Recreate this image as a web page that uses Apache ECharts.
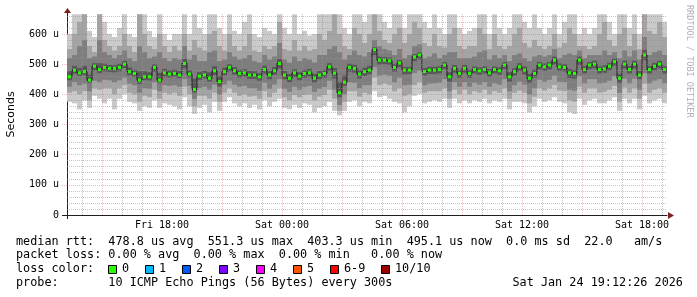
<!DOCTYPE html>
<html><head><meta charset="utf-8">
<script src="https://cdn.jsdelivr.net/npm/echarts@6/dist/echarts.min.js"></script>
<style>html,body{margin:0;padding:0;background:#fff}#c{width:697px;height:297px}</style>
</head><body><div id="c"></div>
<script>
// time axis: hours since Fri 00:00
const startHour = 13.25, endHour = 43.25, stepHours = 0.25;

const med = [458,480,471,475,447,493,482,489,486,486, 489,500,475,469,447,458,458,489,447,471,
 467,469,464,502,467,416,460,464,453,478, 442,475,489,478,469,471,464,464,458,482,
 464,478,502,464,453,471,460,469,471,453, 464,469,491,470,405,440,489,486,467,475,
 480,548,513,513,511,489,504,480,480,524, 530,475,480,480,482,497,458,486,469,486,
 469,482,478,482,471,482,478,497,458,475, 491,480,453,469,497,491,497,513,491,489,
 471,469,513,482,497,500,482,484,493,508, 453,500,482,500,464,530,482,493,500,482];

const hi1 = [600,665,665,665,610,590,665,640,600,590, 620,665,600,590,665,665,610,590,665,600, 580,600,600,665,600,665,620,600,665,665,
 620,600,665,610,600,640,665,600,590,620, 610,600,665,620,600,665,600,610,595,600, 665,665,665,665,665,620,600,665,665,640,
 665,665,665,640,620,665,665,620,665,665, 665,640,620,665,620,600,665,665,620,600, 610,620,665,665,600,665,620,600,620,665,
 665,640,620,665,620,600,620,665,600,640, 665,665,600,620,600,620,665,665,640,600, 665,665,620,665,600,665,665,665,665,640];
const hi2 = [550,600,640,665,560,540,665,580,560,545, 560,600,560,540,665,600,560,550,600,560, 540,560,545,600,545,580,555,545,600,610,
 560,545,600,560,545,560,600,545,540,560, 550,560,640,550,545,580,545,560,545,550, 600,580,610,665,600,560,550,620,600,570,
 600,665,610,580,570,600,620,570,600,640, 620,570,560,600,560,555,600,620,560,550, 560,560,620,600,550,600,560,550,560,600,
 620,570,555,580,560,550,560,600,555,570, 620,600,560,560,550,560,600,640,580,560, 600,620,560,600,550,665,610,600,640,590];
const hi3 = [520,530,560,580,520,525,580,540,530,520, 530,545,520,510,560,540,520,525,540,520, 510,520,515,560,515,530,510,510,540,545,
 510,515,540,525,515,520,530,510,505,530, 515,525,570,515,505,525,510,520,515,505, 530,530,550,560,540,515,530,545,530,525,
 540,580,560,550,545,530,550,520,530,560, 565,520,525,535,520,530,540,540,520,520, 520,525,540,545,515,530,520,530,510,530,
 535,520,510,525,530,525,530,550,520,530, 535,530,545,520,530,530,530,545,530,540, 520,545,525,545,515,590,530,540,545,530];
const hi4 = [476,494,487,494,465,503,503,501,497,496, 501,511,489,481,476,476,473,499,471,484, 480,482,477,517,480,451,474,478,473,493,
 460,488,500,490,481,483,477,476,470,495, 476,490,517,477,467,483,473,481,484,467, 477,481,503,487,441,462,501,498,481,488,
 494,556,525,524,522,500,514,491,491,533, 540,487,491,491,492,507,473,497,481,497, 481,492,489,492,483,492,489,507,473,486,
 503,492,467,482,507,502,507,525,502,500, 484,481,525,493,507,511,492,496,504,519, 467,512,493,511,477,547,493,504,511,493];
const lo4 = [447,468,461,463,437,479,470,476,474,473, 476,487,463,458,434,447,446,475,437,458, 456,458,453,486,456,406,448,453,442,464,
 426,463,476,465,456,458,451,451,445,469, 450,465,486,450,439,457,447,455,458,439, 450,455,477,452,390,428,475,472,452,461,
 466,530,499,500,498,475,490,466,467,510, 516,462,467,467,469,484,442,472,455,472, 455,469,465,469,458,469,465,484,442,462,
 477,466,437,456,482,477,482,499,477,476, 454,452,497,469,483,486,469,471,479,495, 437,486,469,486,450,513,469,479,486,469];
const lo3 = [425,440,430,435,410,445,440,448,446,440, 446,455,435,430,405,420,418,440,410,430, 428,430,425,450,428,385,420,425,415,432,
 400,432,445,432,425,428,420,420,412,438, 418,432,450,418,408,425,415,424,428,408, 418,424,445,415,365,400,440,438,420,430,
 430,490,462,465,462,440,455,430,432,470, 478,430,435,436,438,450,410,440,425,440, 425,438,432,440,425,436,432,450,410,430,
 442,432,400,420,448,442,448,462,442,440, 415,412,460,436,450,450,436,438,445,460, 405,452,436,452,415,470,436,445,450,436];
const lo2 = [405,410,400,410,380,420,415,420,420,400, 420,430,405,400,375,395,390,415,385,405, 400,405,395,425,400,360,395,395,385,405,
 375,405,420,405,395,400,392,395,385,410, 390,405,420,390,380,398,390,398,400,380, 392,398,415,385,345,375,410,410,392,405,
 400,455,430,435,430,410,420,395,400,430, 440,405,410,410,410,420,385,415,400,415, 400,410,405,415,400,410,405,420,385,405,
 412,405,370,392,420,412,420,430,412,410, 380,375,425,405,420,420,405,408,415,428, 375,422,405,420,385,435,405,415,420,405];
const lo1 = [375,370,350,380,355,395,385,370,385,350, 385,400,375,370,345,360,355,380,355,370, 365,360,350,390,360,335,355,365,340,375,
 345,375,390,370,360,370,355,365,350,380, 360,375,385,355,350,365,355,370,365,340, 355,360,375,345,330,345,375,380,360,375,
 370,410,390,395,385,375,370,340,360,395, 400,370,375,380,375,385,355,385,370,380, 370,380,375,385,370,380,375,385,350,375,
 375,370,340,360,385,375,380,390,375,370, 340,335,385,365,380,385,370,370,380,390, 345,385,370,385,350,395,370,380,385,370];

const smokeColors = ['#cacaca', '#a4a4a4', '#7e7e7e', '#585858'];
const xLabelHours = [18, 24, 30, 36, 42];
const xLabels = ['Fri 18:00', 'Sat 00:00', 'Sat 06:00', 'Sat 12:00', 'Sat 18:00'];
const majorHours = [15, 18, 21, 24, 27, 30, 33, 36, 39, 42];
const yTicks = [0, 100, 200, 300, 400, 500, 600];
const yMinorStep = 20, yMax = 666;
const lossLabels = ['0', '1', '2', '3', '4', '5', '6-9', '10/10'];
const lossColors = ['#26ff00', '#00b8ff', '#0059ff', '#7e00ff', '#ff00ff', '#ff5500', '#ff0000', '#a10000'];
const statLines = [
  'median rtt:  478.8 us avg  551.3 us max  403.3 us min  495.1 us now  0.0 ms sd  22.0   am/s',
  'packet loss: 0.00 % avg  0.00 % max  0.00 % min   0.00 % now',
  'loss color:',
  'probe:       10 ICMP Echo Pings (56 Bytes) every 300s'
];
const stampText = 'Sat Jan 24 19:12:26 2026';

// build data tables
const times = med.map((_, i) => startHour + i * stepHours);
const smokeData = times.map((t, i) => [t, lo1[i], lo2[i], lo3[i], lo4[i], hi4[i], hi3[i], hi2[i], hi1[i]]);
const medData = times.map((t, i) => [t, med[i]]);
const medLine = times.map((t, i) => [t + stepHours / 2, med[i]]);

const minorC = 'rgba(150,150,150,0.55)', majorC = 'rgba(222,79,79,0.38)';
const gridMarks = [];
for (let h = Math.ceil(startHour); h < endHour; h++) {
  gridMarks.push({xAxis: h, lineStyle: {color: majorHours.includes(h) ? majorC : minorC, type: [1, 1], width: 1}});
}
for (let v = yMinorStep; v < yMax; v += yMinorStep) {
  gridMarks.push({yAxis: v, lineStyle: {color: yTicks.includes(v) ? majorC : minorC, type: [1, 1], width: 1}});
}

const mono = 'DejaVu Sans Mono';
const chart = echarts.init(document.getElementById('c'), null, {renderer: 'canvas'});

const graphics = [];
const lineYs = [241.5, 255.2, 269, 282.8];
statLines.forEach((s, k) => graphics.push({type: 'text', x: 16, y: lineYs[k],
  style: {text: s, font: '11.8px "' + mono + '"', fill: '#000', textVerticalAlign: 'middle'}}));
graphics.push({type: 'text', x: 512.5, y: lineYs[3], style: {text: stampText, font: '11.8px "' + mono + '"', fill: '#000', textVerticalAlign: 'middle'}});
const boxX = [108, 145, 182, 219, 256, 293, 330, 381];
lossLabels.forEach((l, k) => {
  graphics.push({type: 'rect', shape: {x: boxX[k] + 0.5, y: 265.5, width: 8, height: 8},
    style: {fill: lossColors[k], stroke: '#000', lineWidth: 1}});
  graphics.push({type: 'text', x: boxX[k] + 14, y: lineYs[2], style: {text: l, font: '11.8px "' + mono + '"', fill: '#000', textVerticalAlign: 'middle'}});
});
graphics.push({type: 'text', x: 689, y: 5, rotation: -Math.PI / 2,
  style: {text: 'RRDTOOL / TOBI OETIKER', font: '8.5px "' + mono + '"', fill: '#b0b0b0', textVerticalAlign: 'middle'}});
// axis arrows and axis extensions
graphics.push({type: 'line', shape: {x1: 62, y1: 215.5, x2: 67, y2: 215.5}, style: {stroke: '#1f1f1f', lineWidth: 1}});
graphics.push({type: 'line', shape: {x1: 67.5, y1: 215, x2: 67.5, y2: 219}, style: {stroke: '#1f1f1f', lineWidth: 1}});
graphics.push({type: 'line', shape: {x1: 67.5, y1: 14, x2: 67.5, y2: 11}, style: {stroke: '#1f1f1f', lineWidth: 1}});
graphics.push({type: 'polygon', shape: {points: [[64, 13], [71, 13], [67.5, 8]]}, style: {fill: '#801f1f'}});
graphics.push({type: 'polygon', shape: {points: [[668, 212], [668, 219], [674, 215.5]]}, style: {fill: '#801f1f'}});

chart.setOption({
  animation: false,
  backgroundColor: '#ffffff',
  grid: {left: 67, right: 30, top: 14, bottom: 82, containLabel: false, outerBoundsMode: 'none'},
  xAxis: {
    type: 'value', min: startHour, max: endHour,
    axisLine: {show: true, lineStyle: {color: '#1f1f1f', width: 1}},
    axisTick: {show: false},
    splitLine: {show: false},
    axisLabel: {customValues: xLabelHours, formatter: v => xLabels[xLabelHours.indexOf(v)] || '',
      fontFamily: mono, fontSize: 10, color: '#000', margin: 5}
  },
  yAxis: {
    type: 'value', min: 0, max: yMax,
    name: 'Seconds', nameLocation: 'middle', nameRotate: 90, nameGap: 50,
    nameTextStyle: {fontFamily: 'DejaVu Sans', fontSize: 11, color: '#000'},
    axisLine: {show: true, lineStyle: {color: '#1f1f1f', width: 1}},
    axisTick: {show: true, customValues: yTicks.slice(1), length: 5, lineStyle: {color: majorC, type: [1, 1]}},
    splitLine: {show: false},
    axisLabel: {customValues: yTicks, formatter: v => v === 0 ? '0' : v + ' u',
      fontFamily: mono, fontSize: 10, color: '#000', margin: 8}
  },
  graphic: graphics,
  series: [
    {
      type: 'custom', z: 2, clip: true, silent: true,
      data: smokeData,
      encode: {x: 0, y: [1, 8]},
      renderItem: (params, api) => {
        const t = api.value(0);
        const a = api.coord([t, 0]), b = api.coord([t + stepHours, 0]);
        const x0 = a[0], w = b[0] - a[0];
        const children = [];
        for (let k = 0; k < 4; k++) {
          const yl = api.coord([t, api.value(1 + k)])[1];
          const yh = api.coord([t, api.value(8 - k)])[1];
          children.push({type: 'rect', shape: {x: x0, y: yh, width: w, height: yl - yh}, style: {fill: smokeColors[k]}});
        }
        return {type: 'group', children};
      }
    },
    {
      type: 'line', z: 3, data: medLine, step: 'middle', symbol: 'none', silent: true,
      lineStyle: {color: '#202020', width: 1},
      markLine: {silent: true, symbol: 'none', z: 4, label: {show: false}, animation: false,
        emphasis: {disabled: true}, data: gridMarks}
    },
    {
      type: 'custom', z: 6, clip: true, silent: true,
      data: medData,
      encode: {x: 0, y: 1},
      renderItem: (params, api) => {
        const t = api.value(0);
        const a = api.coord([t, api.value(1)]), b = api.coord([t + stepHours, api.value(1)]);
        return {type: 'rect', shape: {x: a[0] + 1, y: a[1] - 1.5, width: b[0] - a[0] - 2, height: 3},
          style: {fill: lossColors[0]}};
      }
    }
  ]
});
</script>
</body></html>
